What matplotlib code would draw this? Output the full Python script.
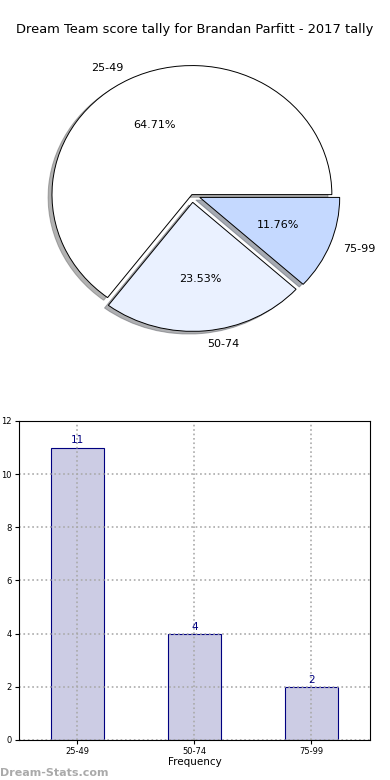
import matplotlib.pyplot as plt

ranges = ['25-49', '50-74', '75-99']
counts = [11, 4, 2]
pie_colors = ['#ffffff', '#eaf1ff', '#c5d9ff']

fig = plt.figure(figsize=(3.9, 7.8), dpi=100)

# pie chart (slightly squashed, like the original)
ax1 = fig.add_axes([0.0436, 0.526, 0.897, 0.449])
ax1.pie(counts, labels=ranges, colors=pie_colors, explode=[0, 0.06, 0.06],
        autopct='%.2f%%', startangle=0,
        shadow={'ox': -0.02, 'oy': -0.015, 'shade': 0.6},
        wedgeprops={'edgecolor': 'black', 'linewidth': 0.7},
        textprops={'fontsize': 8})
ax1.set_aspect('auto')
ax1.set_xlim(-1.25, 1.25)
ax1.set_ylim(-1.357, 1.357)
fig.text(0.5, 1 - 30 / 780, 'Dream Team score tally for Brandan Parfitt - 2017 tally',
         ha='center', va='center', fontsize=9.4)

# bar chart
ax2 = fig.add_axes([0.0487, 0.0513, 0.9, 0.409])
x = range(len(ranges))
ax2.bar(x, counts, width=0.45, color='#ccccE4', edgecolor='navy', linewidth=0.8)
for i, c in zip(x, counts):
    ax2.text(i, c + 0.08, str(c), ha='center', va='bottom', color='navy', fontsize=7.5)
ax2.set_xticks(list(x))
ax2.set_xticklabels(ranges)
ax2.set_xlim(-0.5, 2.5)
ax2.set_ylim(0, 12)
ax2.tick_params(labelsize=6, length=3, pad=2)
ax2.grid(True, linestyle=':', color='#aaaaaa', linewidth=1.2)
ax2.set_xlabel('Frequency', fontsize=7.5, labelpad=1)
ax2.set_ylabel('Dream Team Tally', fontsize=7)

fig.text(0.0, 0.003, 'Dream-Stats.com', fontsize=8, color='#aaaaaa',
         fontweight='bold', ha='left', va='bottom')

fig.savefig('out.png', dpi=100)
